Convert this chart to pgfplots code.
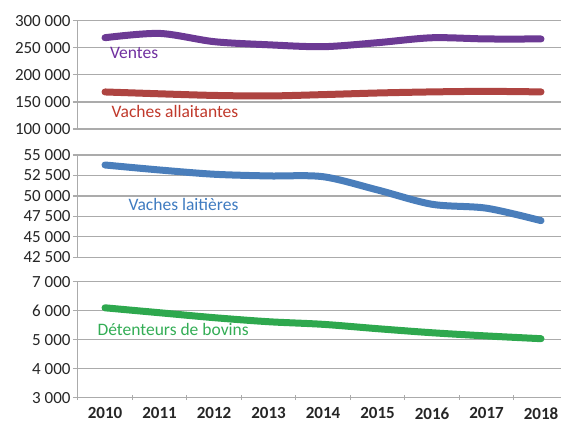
\documentclass[border=0pt]{standalone}
\usepackage{fontspec}
\setmainfont{Carlito}
\usepackage{pgfplots}
\pgfplotsset{compat=1.18}
\definecolor{gridgray}{HTML}{ABABAB}
\definecolor{cpurple}{HTML}{6C3A94}
\definecolor{cred}{HTML}{AE4441}
\definecolor{cblue}{HTML}{4A7EBB}
\definecolor{cgreen}{HTML}{2EA84E}
\definecolor{tpurple}{HTML}{7030A0}
\definecolor{tred}{HTML}{C0392B}
\definecolor{tblue}{HTML}{3F7BC0}
\definecolor{tgreen}{HTML}{33AD55}
\begin{document}
\begin{tikzpicture}
\useasboundingbox (0pt,0pt) rectangle (561pt,-423pt);
\pgfplotsset{
 panel/.style={
  scale only axis, width=490.5pt, xmin=-0.5, xmax=8.5,
  axis y line=left,
  axis line style={-, draw=gridgray, line width=1.3pt},
  ymajorgrids, major grid style={draw=gridgray, line width=1.3pt},
  tick align=outside, major tick length=5pt,
  tick style={draw=gridgray, line width=1.3pt},
  /pgf/number format/assume math mode=true,
  y tick label style={font=\fontsize{17}{20}\selectfont, text=black!85, inner sep=2pt,
    /pgf/number format/fixed, /pgf/number format/1000 sep={\ }},
  scaled y ticks=false, clip=false,
  every axis plot/.append style={line width=7pt, line cap=round, smooth},
 }
}
% Panel 1
\begin{axis}[panel, at={(77.75pt,-20.7pt)}, anchor=north west, height=108.3pt,
  ymin=100000, ymax=300000, ytick={100000,150000,200000,250000,300000}, axis x line=none]
\addplot[cpurple] coordinates {(0,268600) (1,276500) (2,261300) (3,255500) (4,252000) (5,259400) (6,268500) (7,266300) (8,266300)};
\addplot[cred] coordinates {(0,168400) (1,165000) (2,162000) (3,161000) (4,163500) (5,166500) (6,168500) (7,169500) (8,168500)};
\node[anchor=west, inner sep=0pt, text=tpurple, font=\fontsize{17.5}{20}\selectfont] at (axis cs:0.09,240400) {Ventes};
\node[anchor=west, inner sep=0pt, text=tred, font=\fontsize{17.5}{20}\selectfont] at (axis cs:0.12,132100) {Vaches allaitantes};
\end{axis}
% Panel 2
\begin{axis}[panel, at={(77.75pt,-155pt)}, anchor=north west, height=102.3pt,
  ymin=42500, ymax=55000, ytick={42500,45000,47500,50000,52500,55000}, axis x line=none]
\addplot[cblue] coordinates {(0,53780) (1,53170) (2,52650) (3,52440) (4,52350) (5,50730) (6,48980) (7,48500) (8,46980)};
\node[anchor=west, inner sep=0pt, text=tblue, font=\fontsize{17.5}{20}\selectfont] at (axis cs:0.43,49000) {Vaches laitières};
\end{axis}
% Panel 3
\begin{axis}[panel, at={(77.75pt,-281.7pt)}, anchor=north west, height=116pt,
  ymin=3000, ymax=7000, ytick={3000,4000,5000,6000,7000},
  axis x line=bottom,
  xtick={-0.5,0.5,1.5,2.5,3.5,4.5,5.5,6.5,7.5},
  xticklabels={2010,2011,2012,2013,2014,2015,2016,2017,2018},
  x tick label style={font=\bfseries\fontsize{17}{20}\selectfont, text=black!85, inner sep=1pt, xshift=27.25pt, yshift=-6pt}]
\addplot[cgreen] coordinates {(0,6100) (1,5930) (2,5760) (3,5620) (4,5530) (5,5380) (6,5240) (7,5130) (8,5035)};
\node[anchor=west, inner sep=0pt, text=tgreen, font=\fontsize{17.5}{20}\selectfont] at (axis cs:-0.14,5362) {Détenteurs de bovins};
\end{axis}
\end{tikzpicture}
\end{document}
